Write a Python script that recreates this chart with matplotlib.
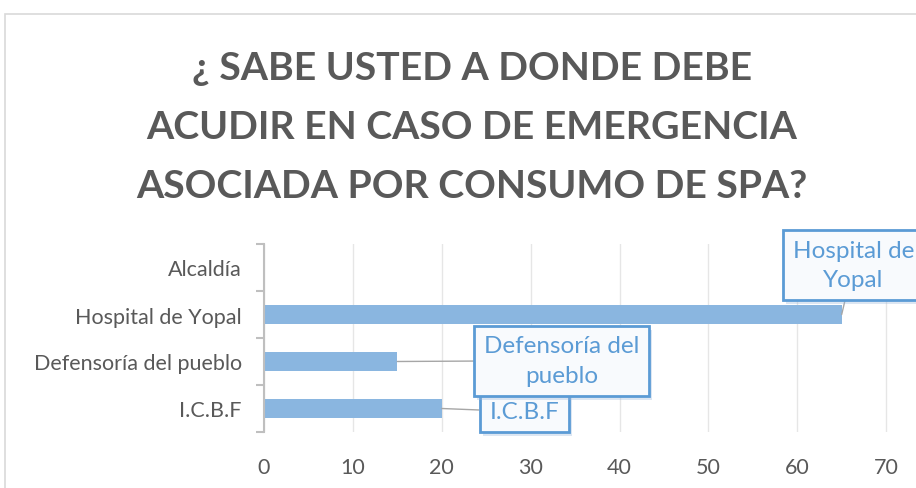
import matplotlib
matplotlib.use("Agg")
import matplotlib.pyplot as plt
import matplotlib.patheffects as pe
from matplotlib.patches import Rectangle
from matplotlib.ticker import FixedLocator

plt.rcParams["font.family"] = ["Lato", "DejaVu Sans"]

categories = ["I.C.B.F", "Defensoría del pueblo", "Hospital de Yopal", "Alcaldía"]
values = [20, 15, 65, 0]
x_ticks = [0, 10, 20, 30, 40, 50, 60, 70]

# etiquetas de datos: (indice, texto, x caja, y caja)
labels = [
    (0, "I.C.B.F", 29.3, -0.07),
    (1, "Defensoría del\npueblo", 33.5, 1.02),
    (2, "Hospital de\nYopal", 66.3, 3.05),
]

W, H = 916, 489
fig = plt.figure(figsize=(W / 100, H / 100), dpi=100)
fig.patch.set_facecolor("white")

# marco del grafico
fig.patches.append(Rectangle((5 / W, -0.1), 1.2, 1 - 15 / H + 0.1,
                             transform=fig.transFigure, fill=False,
                             edgecolor="#D9D9D9", linewidth=1.2))

title = ["¿ SABE USTED A DONDE DEBE",
         "ACUDIR EN CASO DE EMERGENCIA",
         "ASOCIADA POR CONSUMO DE SPA?"]
for i, line in enumerate(title):
    fig.text(472 / W, 1 - (69 + 59 * i) / H, line, ha="center", va="center",
             fontsize=28.3, fontweight="bold", color="#595959")

ax = fig.add_axes([264 / W, 56 / H, 711 / W, 188 / H])
bar_color = "#8AB6E0"
ax.barh(range(len(categories)), values, height=0.4, color=bar_color, zorder=3)

ax.set_xlim(0, 80)
ax.set_ylim(-0.5, len(categories) - 0.5)
ax.set_xticks(x_ticks)
ax.set_yticks(range(len(categories)))
ax.set_yticklabels(categories)
ax.yaxis.set_minor_locator(FixedLocator([i - 0.5 for i in range(len(categories) + 1)]))
ax.tick_params(axis="y", which="major", length=0, pad=16, labelsize=15.5, labelcolor="#595959")
ax.tick_params(axis="y", which="minor", length=6, width=1.5, color="#BFBFBF")
ax.tick_params(axis="x", length=0, pad=18, labelsize=15.5, labelcolor="#595959")
ax.grid(axis="x", color="#E6E6E6", linewidth=1, zorder=0)
for s in ["top", "right", "bottom"]:
    ax.spines[s].set_visible(False)
ax.spines["left"].set_color("#BFBFBF")
ax.spines["left"].set_linewidth(1.5)
ax.spines["left"].set_zorder(4)

for idx, text, bx, by in labels:
    ann = ax.annotate(text, xy=(values[idx], idx), xytext=(bx, by),
                      ha="center", va="center", fontsize=17.5, color="#5B9BD5",
                      linespacing=1.5, zorder=5,
                      bbox=dict(boxstyle="square,pad=0.4", facecolor="#F8FAFD",
                                edgecolor="#5B9BD5", linewidth=2),
                      arrowprops=dict(arrowstyle="-", color="#A6A6A6", linewidth=1,
                                      shrinkA=0, shrinkB=0))
    ann.get_bbox_patch().set_path_effects([
        pe.SimplePatchShadow(offset=(2, -3), shadow_rgbFace="#9DB9DC", alpha=0.35),
        pe.Normal()])

fig.savefig("out.png", dpi=100)
